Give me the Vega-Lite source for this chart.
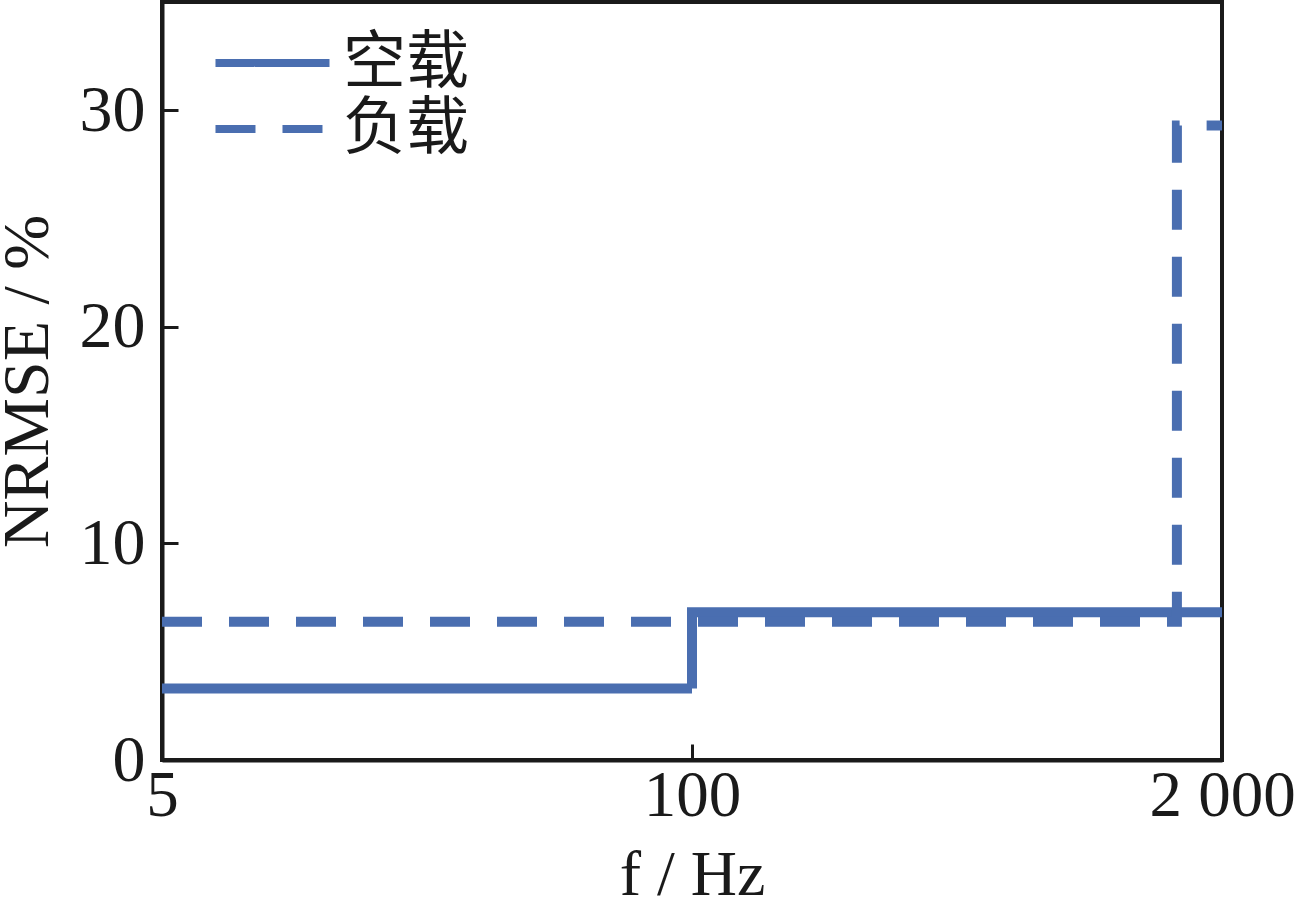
{
  "$schema": "https://vega.github.io/schema/vega-lite/v6.json",
  "autosize": {"type": "none"},
  "padding": {"left": 162, "top": 2, "right": 77, "bottom": 153},
  "width": 1060,
  "height": 758,
  "background": "white",
  "config": {
    "view": {"stroke": "#1a1a1a", "strokeWidth": 4},
    "axis": {
      "labelFont": "Liberation Serif",
      "titleFont": "Liberation Serif",
      "labelFontSize": 65,
      "titleFontSize": 64,
      "labelColor": "#1a1a1a",
      "titleColor": "#1a1a1a",
      "titleFontWeight": "normal",
      "domainColor": "#1a1a1a",
      "domainWidth": 4,
      "tickColor": "#1a1a1a",
      "tickWidth": 3,
      "tickSize": -16,
      "grid": false
    }
  },
  "data": {
    "values": [
      {"f": 5, "nrmse": 3.3, "condition": "空载"},
      {"f": 100, "nrmse": 6.82, "condition": "空载"},
      {"f": 2000, "nrmse": 6.82, "condition": "空载"},
      {"f": 5, "nrmse": 6.38, "condition": "负载"},
      {"f": 1550, "nrmse": 29.3, "condition": "负载"},
      {"f": 2000, "nrmse": 29.3, "condition": "负载"}
    ]
  },
  "mark": {"type": "line", "interpolate": "step-after", "strokeWidth": 10, "color": "#4a6eb0", "clip": true},
  "encoding": {
    "x": {
      "field": "f",
      "type": "quantitative",
      "scale": {"type": "log", "domain": [5, 2000], "nice": false},
      "axis": {
        "values": [5, 100, 2000],
        "labelExpr": "datum.value == 2000 ? '2 000' : datum.label",
        "title": "f / Hz",
        "labelPadding": 20,
        "titlePadding": 15,
        "labelFlush": false
      }
    },
    "y": {
      "field": "nrmse",
      "type": "quantitative",
      "scale": {"domain": [0, 35], "nice": false},
      "axis": {
        "values": [0, 10, 20, 30],
        "title": "NRMSE / %",
        "labelFontSize": 66,
        "titleFontSize": 66,
        "labelPadding": 33,
        "titlePadding": 18
      }
    },
    "strokeDash": {
      "field": "condition",
      "type": "nominal",
      "scale": {"domain": ["空载", "负载"], "range": [[1, 0], [40, 27]]},
      "legend": {
        "title": null,
        "orient": "none",
        "legendX": 49,
        "legendY": 28,
        "symbolType": "stroke",
        "symbolSize": 13000,
        "symbolStrokeWidth": 8,
        "symbolStrokeColor": "#4a6eb0",
        "labelFont": "Noto Sans CJK SC",
        "labelFontSize": 63,
        "labelColor": "#1a1a1a",
        "clipHeight": 66,
        "rowPadding": 0,
        "labelOffset": 9
      }
    }
  }
}
